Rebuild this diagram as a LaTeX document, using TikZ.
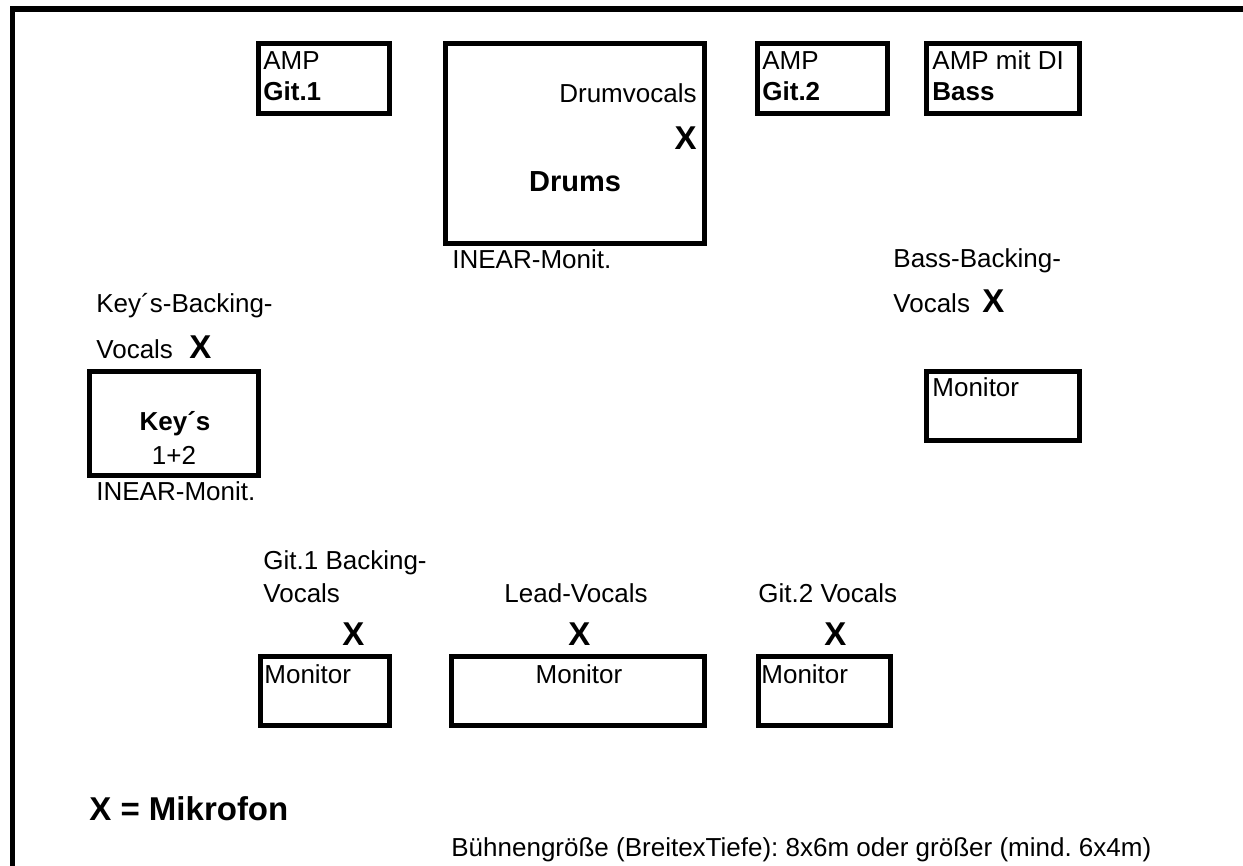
\documentclass[tikz,border=0pt]{standalone}
\usepackage{fontspec}
\setmainfont{Liberation Sans}
\usetikzlibrary{positioning}
\definecolor{Ink}{RGB}{0,0,0}
\frenchspacing
\tikzset{
  stageframe/.style={draw=Ink,line width=2.75pt},
  box/.style={draw=Ink,line width=2.5pt},
  txt/.style={inner sep=0pt,anchor=base west,font=\fontsize{13}{15}\selectfont},
  txtb/.style={txt,font=\bfseries\fontsize{13}{15}\selectfont},
  mic/.style={inner sep=0pt,anchor=base west,font=\bfseries\fontsize{16.5}{19}\selectfont},
  big/.style={inner sep=0pt,anchor=base,font=\bfseries\fontsize{14.5}{17}\selectfont}
}

\begin{document}
\begin{tikzpicture}[x=0.5pt,y=-0.5pt]
\useasboundingbox (0,0) rectangle (1243,866);
\draw[stageframe] (12.5,866) -- (12.5,9) -- (1243,9);

% rear row: amps and drums
\draw[box] (258.5,43.5) rectangle (389.5,113.5);
\draw[box] (445.5,43.5) rectangle (704.5,243.5);
\draw[box] (757.5,43.5) rectangle (887.5,113.5);
\draw[box] (926.5,43.5) rectangle (1079.5,113.5);
% keys and bass monitor
\draw[box] (89.5,371.5) rectangle (258.5,475.5);
\draw[box] (926.5,371.5) rectangle (1079.5,440.5);
% front monitors
\draw[box] (260.5,656.5) rectangle (389.5,725.5);
\draw[box] (451.5,656.5) rectangle (704.5,725.5);
\draw[box] (758.5,656.5) rectangle (890.5,725.5);

\node[txt] (amp1) at (263,70) {AMP};
\node[txtb] (git1) at (263,101) {Git.1};
\node[txt,anchor=base east] (drumvoc) at (697,103) {Drumvocals};
\node[mic,anchor=base east] (drummic) at (697,150) {X};
\node[big] (drums) at (575,192) {Drums};
\node[txt] (drumear) at (452,269) {INEAR-Monit.};
\node[txt] (amp2) at (762,70) {AMP};
\node[txtb] (git2) at (762,101) {Git.2};
\node[txt] (amp3) at (932,70) {AMP mit DI};
\node[txtb] (bass) at (932,101) {Bass};

\node[txt] (bassback) at (893,268) {Bass-Backing-};
\node[txt] (bassvoc) at (893,313) {Vocals};
\node[mic] (bassmic) at (982,313) {X};
\node[txt] (bassmon) at (932,397) {Monitor};

\node[txt] (keyback) at (96,313) {Key´s-Backing-};
\node[txt] (keyvoc) at (96,358) {Vocals};
\node[mic] (keymic) at (189,358) {X};
\node[txtb,anchor=base] (keys) at (175,430) {Key´s};
\node[txt,anchor=base] (keynum) at (174,464) {1+2};
\node[txt] (keyear) at (96,500) {INEAR-Monit.};

\node[txt] (g1back) at (263,569) {Git.1 Backing-};
\node[txt] (g1voc) at (263,602) {Vocals};
\node[txt,anchor=base] (leadvoc) at (576,602) {Lead-Vocals};
\node[txt] (g2voc) at (758,602) {Git.2 Vocals};
\node[mic] (g1mic) at (342,645) {X};
\node[mic] (leadmic) at (568,645) {X};
\node[mic] (g2mic) at (824,645) {X};
\node[txt] (g1mon) at (264,683) {Monitor};
\node[txt,anchor=base] (leadmon) at (579,683) {Monitor};
\node[txt] (g2mon) at (761,683) {Monitor};

\node[mic] (legend) at (89,820) {X = Mikrofon};
\node[txt] (size) at (451,856) {Bühnengröße (BreitexTiefe): 8x6m oder größer (mind. 6x4m)};
\end{tikzpicture}
\end{document}
